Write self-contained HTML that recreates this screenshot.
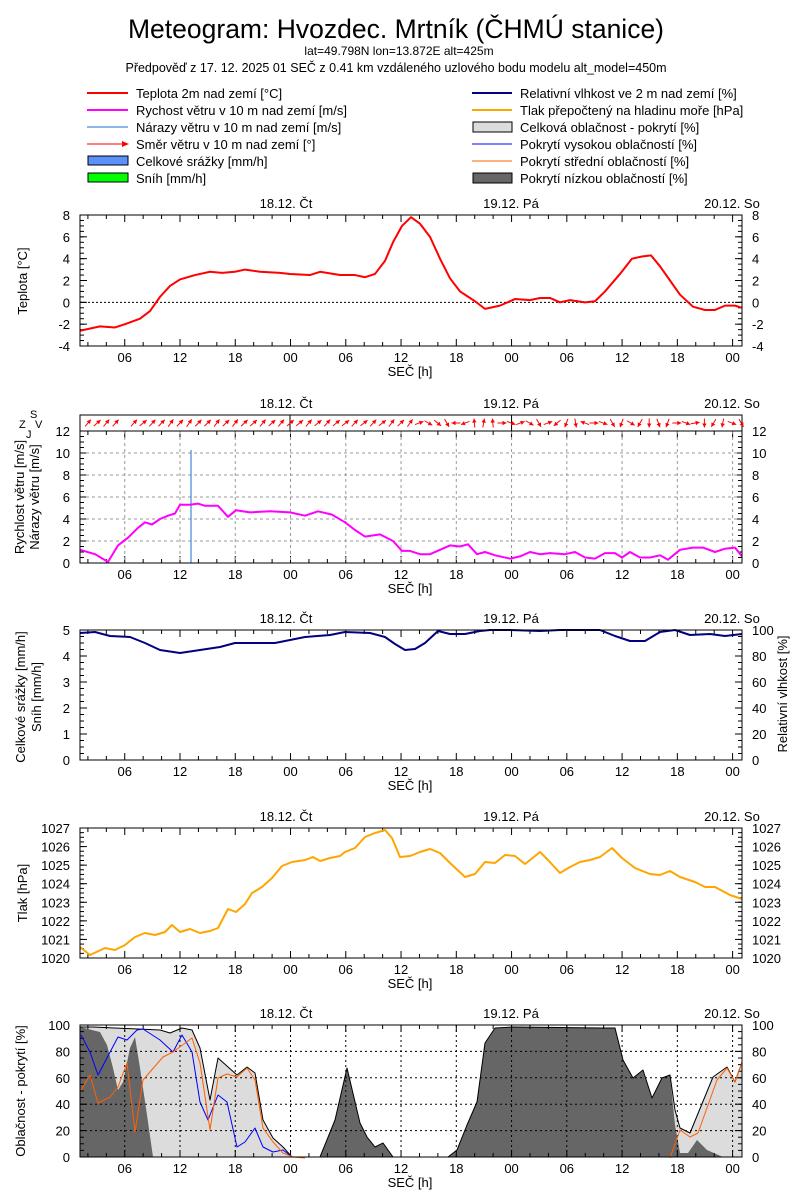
<!DOCTYPE html>
<html><head><meta charset="utf-8">
<style>
body{margin:0;background:#fff;}
svg{display:block;font-family:"Liberation Sans",Arial,sans-serif;}
</style></head><body>
<svg id="s" width="800" height="1200" viewBox="0 0 800 1200" xmlns="http://www.w3.org/2000/svg">
<rect width="800" height="1200" fill="#fff"/>
<text x="396" y="38" font-size="26.5" text-anchor="middle">Meteogram: Hvozdec. Mrtník (ČHMÚ stanice)</text>
<text x="399" y="55" font-size="12" text-anchor="middle">lat=49.798N lon=13.872E alt=425m</text>
<text x="396" y="72" font-size="12.5" text-anchor="middle">Předpověď z 17. 12. 2025 01 SEČ z 0.41 km vzdáleného uzlového bodu modelu alt_model=450m</text>
<g font-size="13">
<line x1="87" y1="93" x2="128" y2="93" stroke="#f00" stroke-width="2"/><text x="136" y="98">Teplota 2m nad zemí [°C]</text>
<line x1="87" y1="110" x2="128" y2="110" stroke="#f0f" stroke-width="2"/><text x="136" y="115">Rychost větru v 10 m nad zemí [m/s]</text>
<line x1="87" y1="127" x2="128" y2="127" stroke="#1e6fd0" stroke-width="1"/><text x="136" y="132">Nárazy větru v 10 m nad zemí [m/s]</text>
<line x1="87" y1="144" x2="126" y2="144" stroke="#f00" stroke-width="1"/><path d="M122,141 L129,144 L122,147Z" fill="#f00"/><text x="136" y="149">Směr větru v 10 m nad zemí [°]</text>
<rect x="88" y="156" width="40" height="9" fill="#5b8ff9" stroke="#000"/><text x="136" y="166">Celkové srážky [mm/h]</text>
<rect x="88" y="173" width="40" height="9" fill="#0f0" stroke="#000"/><text x="136" y="183">Sníh [mm/h]</text>
<line x1="472" y1="93" x2="512" y2="93" stroke="#000080" stroke-width="2"/><text x="520" y="98">Relativní vlhkost ve 2 m nad zemí [%]</text>
<line x1="472" y1="110" x2="512" y2="110" stroke="#ffa500" stroke-width="2"/><text x="520" y="115">Tlak přepočtený na hladinu moře [hPa]</text>
<rect x="473" y="122" width="39" height="10" fill="#dcdcdc" stroke="#000"/><text x="520" y="132">Celková oblačnost - pokrytí [%]</text>
<line x1="472" y1="144" x2="512" y2="144" stroke="#00f" stroke-width="1"/><text x="520" y="149">Pokrytí vysokou oblačností [%]</text>
<line x1="472" y1="161" x2="512" y2="161" stroke="#ff6000" stroke-width="1"/><text x="520" y="166">Pokrytí střední oblačností [%]</text>
<rect x="473" y="173" width="39" height="10" fill="#666" stroke="#000"/><text x="520" y="183">Pokrytí nízkou oblačností [%]</text>
</g>
<g id="g"></g>
</svg>
<script>
const NS="http://www.w3.org/2000/svg",G=document.getElementById('g');
function el(t,a,txt){const e=document.createElementNS(NS,t);for(const k in a)e.setAttribute(k,a[k]);if(txt!==undefined)e.textContent=txt;G.appendChild(e);return e;}
const X0=80,X1=742;
const hx=h=>180+(h-12)*9.21;
function pl(pts,stroke,w){el('polyline',{points:pts.map(p=>p.join(',')).join(' '),fill:'none',stroke:stroke,'stroke-width':w,'stroke-linejoin':'round'});}
function poly(pts,fill,stroke){el('polygon',{points:pts.map(p=>p.join(',')).join(' '),fill:fill,stroke:stroke||'none','stroke-width':1});}
function panel(top,bot,o){
  const dt=o.bandTop||top;
  el('text',{x:286,y:dt-7,'font-size':13,'text-anchor':'middle'},'18.12. Čt');
  el('text',{x:511,y:dt-7,'font-size':13,'text-anchor':'middle'},'19.12. Pá');
  el('text',{x:732,y:dt-7,'font-size':13,'text-anchor':'middle'},'20.12. So');
  for(let h=2;h<=72;h+=2){const x=hx(h);const maj=h%6==0;
    const L=maj?7:4;
    el('line',{x1:x,y1:bot,x2:x,y2:bot-L,stroke:'#000'});el('line',{x1:x,y1:top,x2:x,y2:top+L,stroke:'#000'});
    if(maj&&o.grid) el('line',{x1:x,y1:top,x2:x,y2:bot,stroke:o.grid,'stroke-dasharray':o.dash,'stroke-width':1});
    if(maj){const i=h/6; el('text',{x:x,y:bot+16,'font-size':13,'text-anchor':'middle'},['00','06','12','18'][i%4]);}
  }
  el('text',{x:410,y:bot+30,'font-size':13,'text-anchor':'middle'},'SEČ [h]');
  const yv=v=>bot-(v-o.ymin)/(o.ymax-o.ymin)*(bot-top);
  for(let v=o.ymin;v<=o.ymax+1e-9;v+=o.ystep){const y=yv(v);
    el('line',{x1:X0,y1:y,x2:X0+7,y2:y,stroke:'#000'});el('line',{x1:X1,y1:y,x2:X1-7,y2:y,stroke:'#000'});
    el('text',{x:X0-10,y:y+5,'font-size':13,'text-anchor':'end'},o.lf?o.lf(v):v);
    if(o.right!==false) el('text',{x:X1+10,y:y+5,'font-size':13},o.rf?o.rf(v):v);
    if(o.ygrid&&v>o.ymin&&v<o.ymax) el('line',{x1:X0,y1:y,x2:X1,y2:y,stroke:o.grid,'stroke-dasharray':o.dash});
  }
  if(o.minor){for(let v=o.ymin;v<=o.ymax;v+=o.minor){const y=yv(v);el('line',{x1:X0,y1:y,x2:X0+4,y2:y,stroke:'#000'});el('line',{x1:X1,y1:y,x2:X1-4,y2:y,stroke:'#000'});}}
  return yv;
}
function frame(top,bot){el('rect',{x:X0,y:top,width:X1-X0,height:bot-top,fill:'none',stroke:'#000','stroke-width':1});}
function ylab(x,y,t){el('text',{x:x,y:y,'font-size':13,'text-anchor':'middle',transform:`rotate(-90 ${x} ${y})`},t);}

// Panel 1 temperature
let yv=panel(215,346,{ymin:-4,ymax:8,ystep:2,minor:0.5});
el('line',{x1:X0,y1:yv(0),x2:X1,y2:yv(0),stroke:'#000','stroke-dasharray':'2,2'});
const T=[[80,-2.6],[100,-2.2],[115,-2.3],[125,-2.0],[140,-1.5],[150,-0.8],[160,0.5],[170,1.5],[180,2.1],[195,2.5],[210,2.8],[222,2.7],[235,2.8],[245,3.0],[260,2.8],[280,2.7],[290,2.6],[310,2.5],[320,2.8],[340,2.5],[355,2.5],[365,2.3],[375,2.6],[385,3.8],[393,5.5],[402,7.0],[411,7.8],[420,7.2],[430,6.0],[440,4.0],[450,2.2],[460,1.0],[475,0.1],[485,-0.6],[500,-0.3],[515,0.3],[530,0.2],[540,0.4],[550,0.4],[560,0.0],[570,0.2],[585,0.0],[595,0.1],[605,1.0],[620,2.6],[632,4.0],[642,4.2],[651,4.3],[660,3.3],[670,2.0],[680,0.7],[693,-0.4],[705,-0.7],[715,-0.7],[725,-0.3],[735,-0.3],[742,-0.5]];
pl(T.map(p=>[p[0],yv(p[1])]),'#f00',2);
frame(215,346);ylab(27,281,'Teplota [°C]');

// Panel 2 wind
yv=panel(431,563,{ymin:0,ymax:12,ystep:2,minor:0.5,grid:'#999',dash:'3,3',ygrid:true,bandTop:415});
el('rect',{x:X0,y:415,width:X1-X0,height:16,fill:'none',stroke:'#000'});
el('line',{x1:290,y1:415,x2:290,y2:431,stroke:'#000'});
el('line',{x1:hx(48),y1:415,x2:hx(48),y2:431,stroke:'#000'});
el('text',{x:30,y:418,'font-size':11},'S');
el('text',{x:19,y:428,'font-size':11},'Z');
el('text',{x:35,y:428,'font-size':11},'V');
el('text',{x:26,y:438,'font-size':11},'J');
const A=[];
const r2=[20,-30,-40,-60,180,200,95,80,95,0,-20,20,-30,-60,20,-140,-110,-80,160,0,-20,-60,-110,-30,-120,-90,-70,-110,0,-20,10,-90,-120,-100,-20,-60,130,110,60,45,60,40,45,40,35,45,40,35,40];
let k=0;
for(let x=84;x<738;x+=9.2){let a;
 if(x>112&&x<124)continue;
 if(x<415)a=38+((Math.round(x)*7)%18);
 else{a=r2[k%r2.length];k++;}
 A.push([x,a]);}
A.forEach(([x,a])=>{const r=a*Math.PI/180,dx=Math.cos(r)*9,dy=-Math.sin(r)*9;const cx=x+4,cy=423;
 const x1=cx-dx/2,y1=cy-dy/2,x2=cx+dx/2,y2=cy+dy/2;
 el('line',{x1:x1,y1:y1,x2:x2,y2:y2,stroke:'#f00','stroke-width':1});
 const ux=dx/9,uy=dy/9;const px=-uy,py=ux;
 el('polygon',{points:`${x2},${y2} ${x2-ux*4+px*2.2},${y2-uy*4+py*2.2} ${x2-ux*4-px*2.2},${y2-uy*4-py*2.2}`,fill:'#f00'});});
const W=[[80,1.2],[95,0.8],[108,0.1],[118,1.6],[128,2.3],[138,3.2],[145,3.7],[152,3.5],[160,4.0],[168,4.3],[175,4.5],[180,5.3],[190,5.3],[198,5.4],[205,5.2],[218,5.2],[228,4.2],[236,4.8],[250,4.6],[270,4.7],[290,4.6],[305,4.3],[318,4.7],[332,4.4],[345,3.7],[355,3.0],[365,2.4],[380,2.6],[393,2.0],[402,1.1],[410,1.1],[420,0.8],[430,0.8],[440,1.2],[450,1.6],[460,1.5],[468,1.7],[477,0.8],[485,1.0],[495,0.7],[510,0.4],[520,0.6],[530,1.0],[540,0.8],[550,0.9],[565,0.8],[575,1.0],[585,0.5],[595,0.4],[605,0.9],[615,0.9],[622,0.5],[630,1.0],[640,0.5],[650,0.5],[660,0.7],[668,0.3],[680,1.2],[693,1.4],[703,1.4],[715,1.0],[725,1.3],[735,1.4],[742,0.6]];
el('line',{x1:191,y1:563,x2:191,y2:450,stroke:'#1e6fd0','stroke-width':1});
pl(W.map(p=>[p[0],yv(p[1])]),'#f0f',2);
frame(431,563);ylab(24,497,'Rychlost větru [m/s]');ylab(39,497,'Nárazy větru [m/s]');

// Panel 3
yv=panel(630,760,{ymin:0,ymax:5,ystep:1,minor:0.25,rf:v=>v*20});
const H=[[80,633],[95,632],[110,636],[130,637],[145,643],[160,650],[180,653],[200,650],[220,647],[235,643],[250,643],[275,643],[290,640],[305,637],[330,635],[345,632],[370,633],[385,637],[395,644],[405,650],[415,649],[425,643],[438,631],[450,634],[465,634],[480,631],[490,630],[510,630],[540,631],[560,630],[600,630],[615,636],[630,641],[645,641],[660,632],[675,630],[690,635],[710,634],[725,636],[742,634]];
pl(H,'#000080',2);
frame(630,760);ylab(25,697,'Celkové srážky [mm/h]');ylab(41,697,'Sníh [mm/h]');ylab(787,694,'Relativní vlhkost [%]');

// Panel 4
yv=panel(828,958,{ymin:1020,ymax:1027,ystep:1,minor:0.25});
const P=[[80,947],[90,955],[105,948],[115,950],[125,945],[135,937],[145,933],[155,935],[165,932],[172,925],[180,932],[190,929],[200,933],[210,931],[218,928],[228,909],[236,912],[245,904],[252,893],[262,887],[272,878],[282,866],[292,862],[305,860],[313,857],[320,861],[330,858],[340,856],[345,852],[355,848],[365,837],[375,833],[385,830],[392,838],[400,857],[410,856],[420,852],[430,849],[440,853],[450,863],[465,877],[475,874],[485,862],[495,863],[505,855],[515,856],[525,864],[540,852],[548,860],[560,873],[570,867],[580,862],[590,860],[600,857],[612,848],[622,858],[635,868],[650,874],[660,875],[670,871],[680,877],[695,882],[705,887],[715,887],[730,895],[742,899]];
pl(P,'#ffa500',2);
frame(828,958);ylab(27,893,'Tlak [hPa]');

// Panel 5
const B=1157;
const TOT=[[80,1027],[93,1027],[160,1030],[170,1033],[182,1028],[192,1030],[200,1048],[210,1100],[218,1058],[237,1075],[247,1067],[255,1073],[263,1120],[273,1138],[283,1147],[292,1157],[320,1157],[335,1120],[347,1068],[360,1123],[367,1137],[375,1147],[383,1143],[393,1157],[448,1157],[457,1150],[467,1125],[477,1102],[485,1043],[495,1028],[513,1027],[603,1028],[615,1028],[623,1060],[633,1078],[643,1070],[652,1098],[662,1078],[670,1075],[675,1110],[680,1128],[690,1133],[713,1077],[727,1067],[735,1082],[742,1062]];
poly([[80,B],...TOT,[742,B]],'#dcdcdc');
const LOW=[[80,1027],[100,1032],[107,1045],[113,1068],[118,1090],[123,1082],[130,1048],[135,1037],[140,1068],[147,1115],[153,1157],[320,1157],[335,1120],[347,1068],[360,1123],[367,1137],[375,1147],[383,1143],[393,1157],[448,1157],[457,1150],[467,1125],[477,1102],[485,1043],[495,1028],[513,1027],[603,1028],[615,1028],[623,1060],[633,1078],[643,1070],[652,1098],[662,1078],[670,1075],[675,1125],[680,1153],[688,1153],[697,1140],[707,1150],[723,1157]];
poly([[80,B],...LOW,[742,B]],'#666');
yv=panel(1025,1157,{ymin:0,ymax:100,ystep:20,minor:5,grid:'#000',dash:'2,3',ygrid:true});
pl(TOT,'#000',1);
const BL=[[81,1035],[90,1052],[98,1075],[118,1037],[127,1040],[137,1030],[143,1029],[160,1040],[173,1052],[182,1035],[192,1052],[200,1102],[208,1120],[218,1095],[227,1102],[237,1147],[245,1142],[255,1128],[263,1147],[273,1152],[283,1150],[292,1157]];
pl(BL,'#00f',1);
const OR=[[81,1090],[90,1075],[98,1103],[110,1097],[118,1087],[127,1063],[135,1132],[143,1080],[163,1057],[173,1052],[192,1038],[200,1063],[210,1130],[218,1078],[227,1074],[237,1077],[247,1068],[255,1080],[263,1128],[273,1142],[283,1153],[293,1157],[305,1158]];
pl(OR,'#ff6000',1);
pl([[670,1158],[680,1130],[690,1137],[698,1133],[717,1080],[727,1068],[735,1082],[742,1062]],'#ff6000',1);
frame(1025,1157);ylab(25,1091,'Oblačnost - pokrytí [%]');
</script>
</body></html>
